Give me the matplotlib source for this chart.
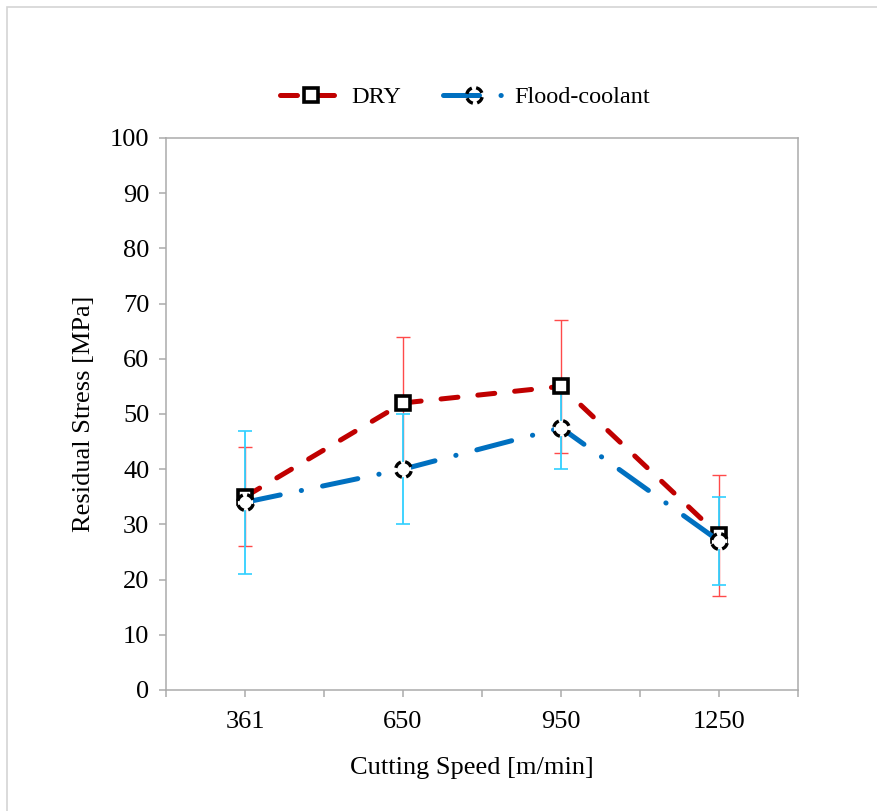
import numpy as np
import matplotlib
matplotlib.use("Agg")
import matplotlib.pyplot as plt
from matplotlib.path import Path
from matplotlib.patches import Rectangle

# data
speeds = ["361", "650", "950", "1250"]
dry = [35, 52, 55, 28]
dry_err = [9, 12, 12, 11]
flood = [34, 40, 47.5, 27]
flood_err = [13, 10, 7.5, 8]

plt.rcParams['font.family'] = ['Liberation Serif', 'DejaVu Serif']
plt.rcParams['font.size'] = 19

# dashed circle marker, built from a few open arcs
arcs = [Path.arc(a, a + 58) for a in (20, 110, 200, 290)]
dashed_circle = Path.make_compound_path(*arcs)

fig = plt.figure(figsize=(8.77, 8.11), dpi=100)
ax = fig.add_axes([166 / 877, 1 - 690 / 811, 632 / 877, 552 / 811])

x = np.arange(len(speeds))
grey = '#ABABAB'

ax.errorbar(x, dry, yerr=dry_err, fmt='none', ecolor='#FF4A4A',
            elinewidth=1.0, capsize=5, capthick=1.0, zorder=2)
ax.errorbar(x, flood, yerr=flood_err, fmt='none', ecolor='#30D0FF',
            elinewidth=1.3, capsize=5, capthick=1.2, zorder=3)

l_dry, = ax.plot(x, dry, color='#C00000', lw=3.6, linestyle=(0, (3.4, 4.0)),
                 dash_capstyle='round', marker='s', ms=10.5, mew=2.6,
                 mec='black', mfc='white', zorder=4, label='DRY')

flood_ls = (0, (7.2, 4.3, 0.05, 4.3))
l_flood, = ax.plot(x, flood, color='#0070C0', lw=3.6, linestyle=flood_ls,
                   dash_capstyle='round', zorder=5, label='Flood-coolant')
ax.plot(x, flood, linestyle='none', marker='o', ms=11, mfc='white',
        mec='none', zorder=6)
ax.plot(x, flood, linestyle='none', marker=dashed_circle, ms=11, mew=2.4,
        mec='black', mfc='none', zorder=7)

# legend handle for flood with dashed circle in the middle
h_flood, = ax.plot([], [], color='#0070C0', lw=3.6, linestyle=flood_ls,
                   dash_capstyle='round', marker=dashed_circle, ms=11,
                   mew=2.4, mec='black', mfc='white')

ax.set_xlim(-0.5, 3.5)
ax.set_ylim(0, 100)
ax.set_yticks(np.arange(0, 101, 10))
ax.set_xticks(x)
ax.set_xticklabels(speeds)
ax.set_xticks(np.arange(-0.5, 3.6, 1.0), minor=True)

for s in ax.spines.values():
    s.set_color(grey)
    s.set_linewidth(1.1)
ax.tick_params(axis='both', which='both', direction='out', color=grey,
               width=1.1, length=5)
ax.tick_params(axis='x', which='major', pad=10)
ax.tick_params(axis='y', pad=7)

ax.set_xlabel('Cutting Speed [m/min]')
ax.set_ylabel('Residual Stress [MPa]', labelpad=11)
ax.xaxis.set_label_coords(0.484, -0.122)

fig.legend([l_dry, h_flood], ['DRY', 'Flood-coolant'], loc='center',
           bbox_to_anchor=(465 / 877, 1 - 97 / 811), ncol=2, frameon=False,
           numpoints=1, handlelength=2.6, handletextpad=0.35,
           columnspacing=1.7, fontsize=17.5)

# light outer frame of the chart area
fig.patches.append(Rectangle((7 / 877, -0.1), 2, 1 - 7 / 811 + 0.1,
                             transform=fig.transFigure, fill=False,
                             edgecolor='#D4D4D4', lw=1.2))

fig.savefig('out.png', dpi=100)
